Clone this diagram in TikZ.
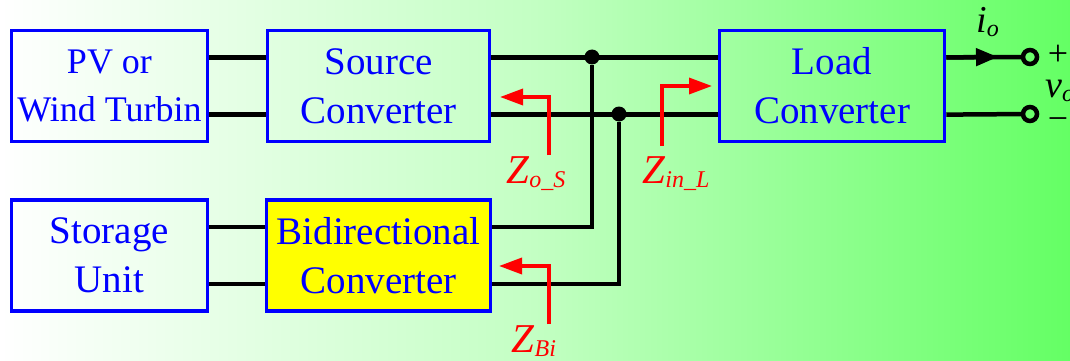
\documentclass[tikz,border=0pt]{standalone}
\usepackage{fontspec}
\setmainfont{Liberation Serif}
\usetikzlibrary{arrows.meta,calc}
\definecolor{leftg}{RGB}{255,255,255}
\definecolor{midg}{RGB}{195,255,195}
\definecolor{rightg}{RGB}{100,255,100}
\definecolor{boxyellow}{RGB}{255,255,0}
\pgfdeclarehorizontalshading{bgshade}{100bp}{color(0bp)=(leftg); color(25bp)=(leftg); color(50bp)=(midg); color(75bp)=(rightg); color(100bp)=(rightg)}
\tikzset{
  blk/.style={draw=blue, line width=3.5pt, text=blue, align=center, inner sep=0pt,
    minimum height=111pt, font=\fontsize{39}{49}\selectfont},
  wire/.style={line width=4.5pt, draw=black},
  zarrow/.style={draw=red, line width=3.5pt, -{Triangle[length=23pt,width=16pt]}},
  jdot/.style={circle, fill=black, minimum size=15pt, inner sep=0pt},
  term/.style={circle, draw=black, line width=4.5pt, minimum size=14pt, inner sep=0pt},
  zlab/.style={text=red, anchor=base, inner sep=0pt, font=\fontsize{41}{41}\selectfont\itshape},
  olab/.style={text=black, anchor=base west, inner sep=0pt, font=\fontsize{38}{38}\selectfont},
  slab/.style={text=black, anchor=base, inner sep=0pt, font=\fontsize{36}{36}\selectfont}
}
\newcommand{\subl}[1]{\raisebox{-4pt}{\fontsize{24}{24}\selectfont\itshape #1}}
\begin{document}
\begin{tikzpicture}[x=1pt,y=-1pt]
\useasboundingbox (0,0) rectangle (1070,361);
\shade[shading=bgshade] (0,0) rectangle (1070,361);

% blocks
\node[blk, minimum width=196pt, font=\fontsize{36}{48}\selectfont] (pv) at (109.5,86) {PV or\\Wind Turbin};
\node[blk, minimum width=222pt] (src) at (378.5,86) {Source\\Converter};
\node[blk, minimum width=225pt] (load) at (832,86) {Load\\Converter};
\node[blk, minimum width=196pt] (stor) at (109.5,255.5) {Storage\\Unit};
\node[blk, minimum width=224pt, fill=boxyellow] (bidir) at (378.5,255.5) {Bidirectional\\Converter};

% wire end points on block borders
\coordinate (pvA) at ($(pv.north east)!0.25!(pv.south east)$);
\coordinate (pvB) at ($(pv.north east)!0.75!(pv.south east)$);
\coordinate (srcAi) at ($(src.north west)!0.25!(src.south west)$);
\coordinate (srcBi) at ($(src.north west)!0.75!(src.south west)$);
\coordinate (srcAo) at ($(src.north east)!0.25!(src.south east)$);
\coordinate (srcBo) at ($(src.north east)!0.75!(src.south east)$);
\coordinate (ldAi) at ($(load.north west)!0.25!(load.south west)$);
\coordinate (ldBi) at ($(load.north west)!0.75!(load.south west)$);
\coordinate (ldAo) at ($(load.north east)!0.25!(load.south east)$);
\coordinate (ldBo) at ($(load.north east)!0.75!(load.south east)$);
\coordinate (stA) at ($(stor.north east)!0.25!(stor.south east)$);
\coordinate (stB) at ($(stor.north east)!0.75!(stor.south east)$);
\coordinate (biAi) at ($(bidir.north west)!0.25!(bidir.south west)$);
\coordinate (biBi) at ($(bidir.north west)!0.75!(bidir.south west)$);
\coordinate (biAo) at ($(bidir.north east)!0.25!(bidir.south east)$);
\coordinate (biBo) at ($(bidir.north east)!0.75!(bidir.south east)$);

% junctions and terminals
\node[jdot] (j1) at (592,57) {};
\node[jdot] (j2) at (619,114) {};
\node[term] (t1) at (1030,57) {};
\node[term] (t2) at (1030,114) {};
\coordinate (ia) at (998,57);

% wires
\draw[wire] (pvA) -- (srcAi);
\draw[wire] (pvB) -- (srcBi);
\draw[wire] (srcAo) -- (ldAi);
\draw[wire] (srcBo) -- (ldBi);
\draw[wire] (stA) -- (biAi);
\draw[wire] (stB) -- (biBi);
\draw[wire] (biAo) -| (j1);
\draw[wire] (biBo) -| (j2);
\draw[wire] (ldAo) -- (t1);
\draw[wire] (ldBo) -- (t2);
\draw[wire, -{Triangle[length=22pt,width=17pt]}] (ldAo) -- (ia);

% impedance arrows
\coordinate (zs0) at (549,155);
\coordinate (zs1) at (500,97);
\coordinate (zl0) at (662,146);
\coordinate (zl1) at (712,86);
\coordinate (zb0) at (549,324);
\coordinate (zb1) at (499,266);
\draw[zarrow] (zs0) |- (zs1);
\draw[zarrow] (zl0) |- (zl1);
\draw[zarrow] (zb0) |- (zb1);

% labels
\node[zlab] (lzs) at (536,183) {Z\subl{o\_S}};
\node[zlab] (lzl) at (676,183) {Z\subl{in\_L}};
\node[zlab] (lzb) at (534,352) {Z\subl{Bi}};
\node[olab] (lio) at (976,33) {\textit{i}\subl{o}};
\node[slab] (lplus) at (1058,66) {+};
\node[olab] (lvo) at (1045,97) {\textit{v}\subl{o}};
\node[slab] (lminus) at (1058,130) {−};
\end{tikzpicture}
\end{document}
